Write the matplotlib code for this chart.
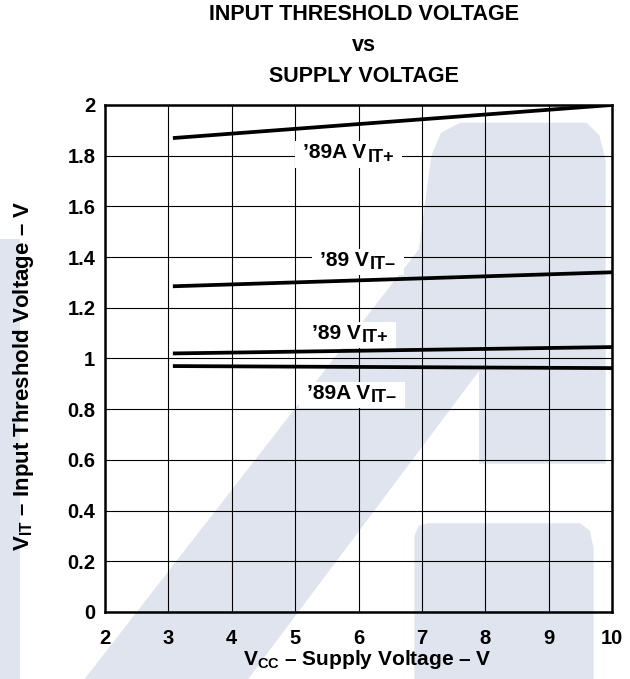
import matplotlib
matplotlib.use('Agg')
import matplotlib.pyplot as plt
from matplotlib.patches import Polygon, Rectangle
from matplotlib.transforms import Bbox

plt.rcParams['font.family'] = ['Liberation Sans', 'DejaVu Sans']
plt.rcParams['font.weight'] = 'bold'
plt.rcParams['mathtext.fontset'] = 'custom'
plt.rcParams['mathtext.rm'] = 'Liberation Sans:bold'
plt.rcParams['mathtext.it'] = 'Liberation Sans:bold'
plt.rcParams['mathtext.bf'] = 'Liberation Sans:bold'

# data (VCC in V, threshold in V)
vcc = [3.1, 10]
vit_89a_pos = [1.87, 2.0]
vit_89_neg = [1.285, 1.34]
vit_89_pos = [1.02, 1.045]
vit_89a_neg = [0.97, 0.962]

label_main = ['’89A V', '’89 V', '’89 V', '’89A V']
label_sub = ['IT+', 'IT–', 'IT+', 'IT–']
label_x = [5.12, 5.39, 5.26, 5.18]
label_y = [1.79, 1.365, 1.078, 0.84]

xticks = [2, 3, 4, 5, 6, 7, 8, 9, 10]
yticks = [0, 0.2, 0.4, 0.6, 0.8, 1, 1.2, 1.4, 1.6, 1.8, 2]
ytick_labels = ['0', '0.2', '0.4', '0.6', '0.8', '1', '1.2', '1.4', '1.6', '1.8', '2']

fig = plt.figure(figsize=(6.3, 6.79), dpi=100)
ax = fig.add_axes([0.1667, 0.0987, 0.8048, 0.7467])
ax.set_facecolor('none')

# faint background watermark
wm = '#dfe4ef'
band = [(1.66, -0.27), (4.24, -0.27), (7.9, 0.95), (7.9, 0.585), (9.9, 0.585),
        (9.9, 1.78), (9.8, 1.88), (9.6, 1.93), (7.6, 1.93), (7.3, 1.89),
        (7.15, 1.8), (6.95, 1.43)]
block = [(6.88, -0.27), (6.88, 0.3), (6.95, 0.34), (7.1, 0.35), (9.5, 0.35),
         (9.65, 0.32), (9.71, 0.25), (9.71, -0.27)]
strip = [(0.3, -0.27), (0.66, -0.27), (0.66, 1.47), (0.3, 1.47)]
for pts in [band, block, strip]:
    ax.add_patch(Polygon(pts, closed=True, facecolor=wm, edgecolor='none',
                         zorder=0, clip_on=False))

ax.plot(vcc, vit_89a_pos, color='black', lw=2.7, zorder=4)
ax.plot(vcc, vit_89_neg, color='black', lw=2.7, zorder=4)
ax.plot(vcc, vit_89_pos, color='black', lw=2.7, zorder=4)
ax.plot(vcc, vit_89a_neg, color='black', lw=2.7, zorder=4)

# curve labels: main text + larger lowered subscript
pairs = []
for m, s, x, y in zip(label_main, label_sub, label_x, label_y):
    t = ax.text(x, y, m, fontsize=15, fontweight='bold', ha='left',
                va='baseline', zorder=3)
    a = ax.annotate(s, xy=(1, 0), xycoords=t, xytext=(1, 0.5), textcoords='offset points',
                    fontsize=13, fontweight='bold', ha='left', va='baseline', zorder=3)
    pairs.append((t, a))

ax.set_xlim(2, 10)
ax.set_ylim(0, 2)
ax.set_xticks(xticks)
ax.set_yticks(yticks)
ax.set_yticklabels(ytick_labels)
ax.tick_params(length=0, labelsize=14.5)
ax.tick_params(axis='x', pad=12)
ax.tick_params(axis='y', pad=7)
ax.grid(True, color='black', lw=0.8)
ax.set_axisbelow(True)
for s in ax.spines.values():
    s.set_linewidth(1.8)

ax.set_xlabel(r'V$_{\mathrm{CC}}$ – Supply Voltage – V', fontsize=15, fontweight='bold')
ax.set_ylabel(r'V$_{\mathrm{IT}}$ – Input Threshold Voltage – V', fontsize=16, fontweight='bold')
ax.xaxis.set_label_coords(0.517, -0.071)
ax.yaxis.set_label_coords(-0.136, 0.465)

fig.text(0.578, 0.994, 'INPUT THRESHOLD VOLTAGE\nvs\nSUPPLY VOLTAGE', fontsize=15.5,
         fontweight='bold', ha='center', va='top', linespacing=1.62)

# white boxes behind the curve labels, sized from the rendered text
fig.canvas.draw()
r = fig.canvas.get_renderer()
for t, a in pairs:
    bb = Bbox.union([t.get_window_extent(r), a.get_window_extent(r)])
    ax.add_patch(Rectangle((bb.x0 - 8, bb.y0 - 2), bb.width + 16, bb.height + 4,
                           transform=None, facecolor='white', edgecolor='none',
                           zorder=2.5))

fig.savefig('out.png', dpi=100)
